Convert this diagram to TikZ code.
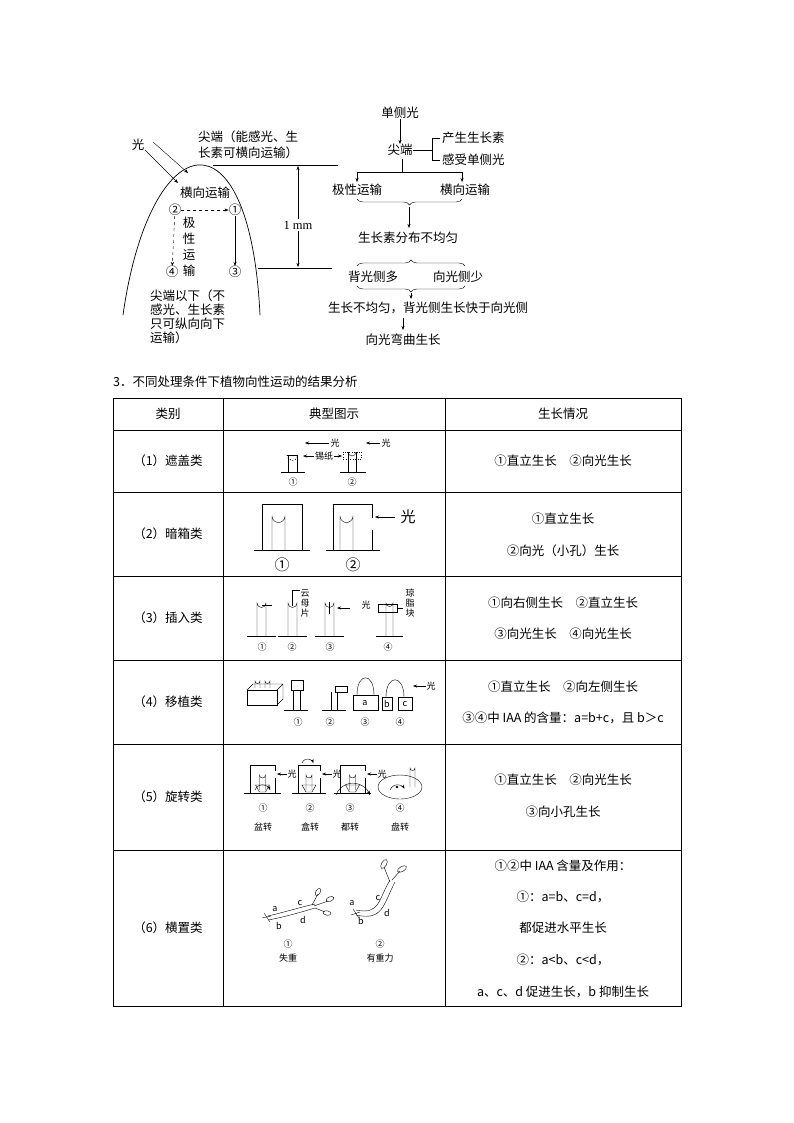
\documentclass[tikz,border=0pt]{standalone}
\usepackage{fontspec}
\setmainfont{Noto Sans CJK SC}
\usetikzlibrary{arrows.meta,decorations.pathreplacing}
\begin{document}
\begin{tikzpicture}[x=1pt,y=-1pt,>={Stealth[length=4pt,width=3pt]},
 t/.style={inner sep=0pt,font=\fontsize{12.5}{14}\selectfont},
 s/.style={inner sep=0pt,font=\fontsize{9}{10}\selectfont},
 ln/.style={line width=0.7pt}]
\useasboundingbox (0,0) rectangle (794,1123);
% ---------- top diagram ----------
\node[t] (g) at (138,145) {光};
\draw[->] (153,142) -- (188,173);
\draw[->] (145,150) -- (178,183);
\draw[ln] (123,315) .. controls (150,125) and (250,105) .. (260,315);
\draw[ln] (213,165) -- (338,165);
\draw[ln] (258,268) -- (332,268);
\draw[<->] (298,166) -- (298,267);
\node[t,fill=white,inner sep=2pt] at (298,225) {\fontspec{Liberation Serif}1 mm};
\node[t,anchor=west] at (198,137) {尖端（能感光、生};
\node[t,anchor=west] at (198,153) {长素可横向运输）};
\node[t,anchor=west] at (180,193) {横向运输};
\node[t] (c2) at (175,210) {②};
\node[t] (c1) at (235,210) {①};
\node[t] (c4) at (172,272) {④};
\node[t] (c3) at (235,272) {③};
\draw[->,dashed] (c2) -- (c1);
\draw[->,dashed] (c2) -- (c4);
\draw[->] (c1) -- (c3);
\node[t,align=center] at (189,247) {极\\[2pt]性\\[2pt]运\\[2pt]输};
\node[t,anchor=west,align=left] at (150,317) {尖端以下（不\\感光、生长素\\只可纵向向下\\运输）};
% right flow
\node[t] (dc) at (400,113) {单侧光};
\node[t] (jd) at (400,150) {尖端};
\draw[->] (dc) -- (jd);
\node[t,anchor=west] (p1) at (442,138) {产生生长素};
\node[t,anchor=west] (p2) at (442,160) {感受单侧光};
\draw (jd.east) -- (432,150);
\draw (440,138) -- (432,138) -- (432,160) -- (440,160);
\draw (402,159) -- (402,172);
\draw (357,172) -- (462,172);
\node[t] (jx) at (357,190) {极性运输};
\node[t] (hx) at (465,190) {横向运输};
\draw[->] (357,172) -- (357,182);
\draw[->] (462,172) -- (462,182);
\draw[decorate,decoration={brace,mirror,amplitude=6pt}] (357,199) -- (462,199);
\node[t] (fb) at (408,238) {生长素分布不均匀};
\draw[->] (409,207) -- (409,228);
\draw[decorate,decoration={brace,amplitude=6pt}] (357,266) -- (465,266);
\node[t] at (373,277) {背光侧多};
\node[t] at (458,277) {向光侧少};
\draw[decorate,decoration={brace,mirror,amplitude=6pt}] (357,286) -- (465,286);
\node[t] (bj) at (428,308) {生长不均匀，背光侧生长快于向光侧};
\node[t] (wq) at (403,340) {向光弯曲生长};
\draw[->] (411,293) -- (411,299);
\draw[->] (403,318) -- (403,330);
% ---------- table ----------
\node[t,anchor=west] at (113,382) {3．不同处理条件下植物向性运动的结果分析};
\draw (113,398) rectangle (681,1006);
\foreach \y in {430,492,576,660,744,850} \draw (113,\y) -- (681,\y);
\draw (223,398) -- (223,1006);
\draw (445,398) -- (445,1006);
\node[t] at (168,414) {类别};
\node[t] at (334,414) {典型图示};
\node[t] at (563,414) {生长情况};
\foreach \y/\tx in {461/（1）遮盖类,534/（2）暗箱类,618/（3）插入类,702/（4）移植类,797/（5）旋转类,928/（6）横置类}
  \node[t] at (168,\y) {\tx};
\node[t] at (563,461) {①直立生长\quad ②向光生长};
\node[t] at (563,519) {①直立生长};
\node[t] at (563,551) {②向光（小孔）生长};
\node[t] at (563,603) {①向右侧生长\quad ②直立生长};
\node[t] at (563,634) {③向光生长\quad ④向光生长};
\node[t] at (563,687) {①直立生长\quad ②向左侧生长};
\node[t] at (563,718) {③④中 IAA 的含量：a=b+c，且 b＞c};
\node[t] at (563,780) {①直立生长\quad ②向光生长};
\node[t] at (563,812) {③向小孔生长};
\node[t] at (563,866) {①②中 IAA 含量及作用：};
\node[t] at (563,897) {①：a=b、c=d，};
\node[t] at (563,928) {都促进水平生长};
\node[t] at (563,960) {②：a<b、c<d，};
\node[t] at (563,992) {a、c、d 促进生长，b 抑制生长};
% row1 images
\draw (288,472) -- (288,455) (297,472) -- (297,455) (281,472) -- (305,472);
\draw[dotted,thick] (287,455) arc (180:0:5.5);
\draw (287,455) -- (298,455);
\draw (348,472) -- (348,452) (356,472) -- (356,452) (340,472) -- (366,472);
\draw (348,452) arc (180:0:4);
\draw[dotted] (343,452) rectangle (361,459);
\node[s] at (293,482) {①}; \node[s] at (352,482) {②};
\node[s] at (335,443) {光}; \draw[->] (329,443) -- (305,443);
\node[s] at (386,443) {光}; \draw[->] (380,443) -- (366,443);
\node[s] at (324,456) {锡纸}; \draw[->] (314,456) -- (303,456); \draw[->] (334,456) -- (342,456);
% row2
\draw (262,550) -- (262,504) -- (302,504) -- (302,550);
\draw (254,550) -- (310,550);
\draw (272,550) -- (272,516) arc (180:0:6.5) -- (285,550);
\draw (333,550) -- (333,504) -- (372,504) -- (372,518) (372,530) -- (372,550);
\draw (326,550) -- (380,550);
\draw (340,550) -- (340,516) arc (180:0:6.5) -- (353,550);
\node[t,font=\fontsize{15}{16}\selectfont] at (282,565) {①};
\node[t,font=\fontsize{15}{16}\selectfont] at (353,565) {②};
\draw[->] (395,517) -- (375,517);
\node[t,font=\fontsize{15}{16}\selectfont] at (408,517) {光};
% row3
\foreach \a/\b in {257/266,288/297,325/334,386/393}{
  \draw (\a,636) -- (\a,603) arc (180:0:{(\b-\a)/2}) -- (\b,636);
  \draw (\a-10,636) -- (\b+10,636);}
\draw (262,605) -- (272,605);
\draw (292,590) -- (292,606) (292,590) -- (300,590);
\draw (329,602) -- (329,614);
\draw[->] (350,608) -- (337,608);
\draw (378,604) rectangle (397,612); \draw (397,608) -- (403,608);
\node[s] at (366,605) {光};
\node[s,align=center] at (305,603) {云\\母\\片};
\node[s,align=center] at (410,603) {琼\\脂\\块};
\foreach \x/\n in {262/①,292/②,330/③,388/④} \node[s] at (\x,647) {\n};
% row4
\draw (247,690) -- (277,690) -- (277,705) -- (247,705) -- cycle;
\draw (247,690) -- (253,684) -- (283,684) -- (283,699) -- (277,705) (277,690) -- (283,684);
\draw (255,688) -- (255,681) arc (180:0:2.5) -- (260,688);
\draw (265,688) -- (265,681) arc (180:0:2.5) -- (270,688);
\draw (293,710) -- (293,690) (300,710) -- (300,690) (284,710) -- (308,710);
\draw (291,680) rectangle (303,690);
\draw (331,710) -- (331,692) (337,710) -- (337,692) (322,710) -- (346,710);
\draw (335,686) rectangle (347,692);
\draw (353,695) rectangle (378,710); \node[s] at (365,703) {a};
\draw (357,695) .. controls (357,672) and (374,672) .. (374,695);
\draw (382,697) rectangle (392,710); \node[s] at (387,704) {b};
\draw (398,697) rectangle (412,710); \node[s] at (405,704) {c};
\draw (386,697) .. controls (386,674) and (404,674) .. (404,697);
\draw[->] (426,686) -- (413,686); \node[s] at (431,686) {光};
\foreach \x/\n in {298/①,330/②,365/③,400/④} \node[s] at (\x,722) {\n};
% row5
\foreach \a/\b in {250/275,298/320,340/365}{
  \draw (\a,793) -- (\a,765) -- (\b,765) -- (\b,771) (\b,778) -- (\b,793);
  \draw (\a-6,793) -- (\b+6,793);
  \draw ({(\a+\b)/2-3},790) -- ({(\a+\b)/2-3},775) arc (180:0:3) -- ({(\a+\b)/2+3},790);
  \draw ({(\a+\b)/2-7},785) -- ({(\a+\b)/2+7},785) -- ({(\a+\b)/2+3},792) -- ({(\a+\b)/2-3},792) -- cycle;
  \draw[->] (\b+12,774) -- (\b+2,774);
  \node[s] at (\b+17,774) {光};}
\draw[->] (255,790) arc (200:340:8);
\draw[->] (302,763) arc (200:340:6);
\draw[->] (336,795) arc (200:340:18);
\draw (400,787) ellipse (22 and 12);
\fill (397,787) circle (1.3);
\draw (410,787) -- (410,768) arc (180:0:2.5) -- (415,787);
\draw[->] (390,790) arc (200:330:8);
\foreach \x/\n/\w in {263/①/盆转,310/②/盒转,350/③/都转,400/④/盘转}{
  \node[s] at (\x,808) {\n}; \node[s] at (\x,827) {\w};}
% row6
\draw (268,916) .. controls (285,912) and (305,906) .. (315,904);
\draw (268,920) .. controls (285,917) and (305,911) .. (315,908);
\draw (312,905) -- (318,894) (314,906) -- (328,901) (315,908) -- (325,912);
\foreach \p/\r in {{(318,892)}/60,{(330,899)}/20,{(327,913)}/-10}
  \draw[rotate around={\r:\p}] \p ellipse (4 and 2.2);
\draw (264,913) -- (270,922) (262,918) -- (271,916);
\node[s] at (275,909) {a}; \node[s] at (279,926) {b};
\node[s] at (300,903) {c}; \node[s] at (303,920) {d};
\draw (356,910) .. controls (380,915) and (378,900) .. (390,880);
\draw (356,915) .. controls (383,921) and (383,905) .. (395,882);
\draw (390,882) -- (384,867) (392,880) -- (400,871);
\draw[rotate around={60:(384,864)}] (384,864) ellipse (5 and 2.5);
\draw[rotate around={30:(402,869)}] (402,869) ellipse (5 and 2.5);
\draw (353,909) -- (359,918) (351,915) -- (360,912);
\node[s] at (352,903) {a}; \node[s] at (361,921) {b};
\node[s] at (378,898) {c}; \node[s] at (387,913) {d};
\node[s] at (288,944) {①}; \node[s] at (288,958) {失重};
\node[s] at (380,944) {②}; \node[s] at (380,958) {有重力};
\end{tikzpicture}
\end{document}
